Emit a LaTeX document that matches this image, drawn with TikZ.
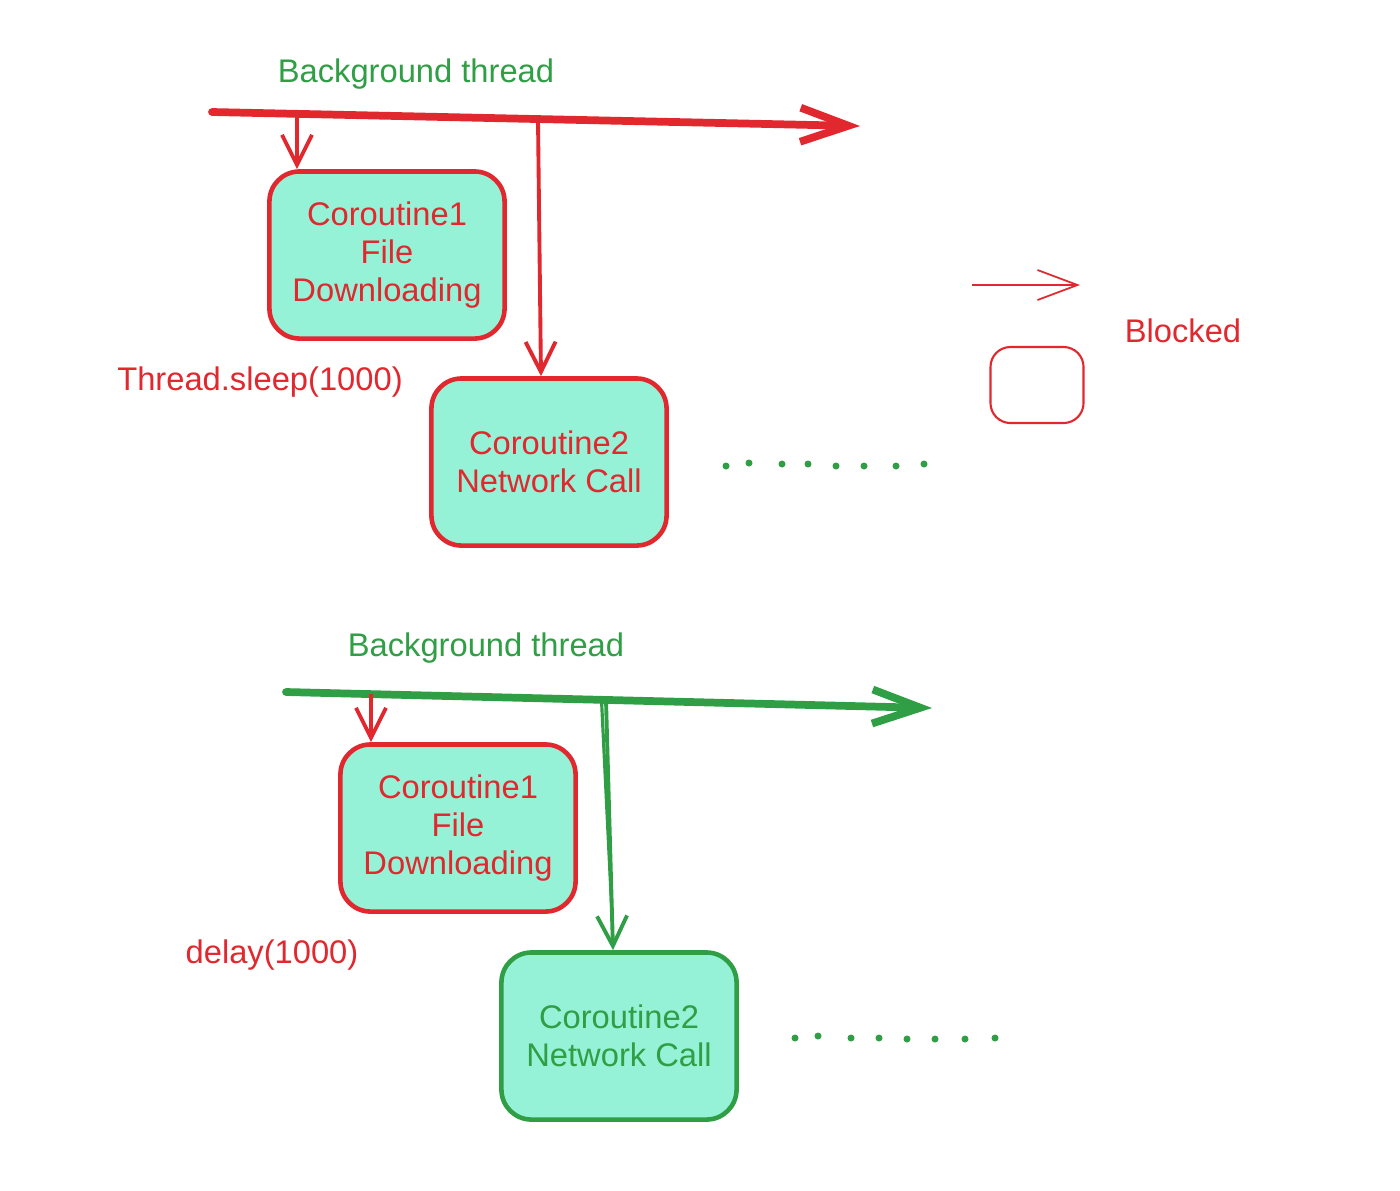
\documentclass[tikz,border=0pt]{standalone}
\usepackage{fontspec}
\setmainfont{Liberation Sans}
\usetikzlibrary{arrows.meta}
\definecolor{sketchred}{HTML}{E0282E}
\definecolor{sketchgreen}{HTML}{2F9E44}
\definecolor{mint}{HTML}{96F2D7}

\begin{document}
\begin{tikzpicture}[x=0.01cm,y=-0.01cm,
    every node/.style={font=\fontsize{9.3}{10.8}\selectfont},
    corbox/.style={draw,rounded corners=0.3cm,fill=mint,line width=1.3pt,minimum width=2.35cm,minimum height=1.67cm,align=center,inner sep=0pt},
    thread/.style={line width=2.2pt,line cap=round,-{Straight Barb[length=0.48cm,width=0.34cm,line width=2.2pt]}},
    spawn/.style={line width=1.1pt,-{Straight Barb[length=0.3cm,width=0.3cm]}},
    dot/.style={circle,fill=sketchgreen,inner sep=0pt,minimum size=0.07cm}]
    \useasboundingbox (0,0) rectangle (1400,1190);

    % blocking version
    \node[text=sketchgreen] (bg1) at (416,74) {Background thread};
    \coordinate (t1a) at (212,112);
    \coordinate (t1b) at (860,126);
    \draw[thread,sketchred] (t1a) -- (t1b);

    \node[corbox,draw=sketchred,text=sketchred] (c1) at (387,255) {Coroutine1\\File\\Downloading};
    \node[corbox,draw=sketchred,text=sketchred] (c2) at (549,462) {Coroutine2\\Network Call};

    \coordinate (s1) at (297,115);
    \coordinate (s2) at (538,120);
    \draw[spawn,sketchred] (s1) -- (s1 |- c1.north);
    \draw[spawn,sketchred] (s2) -- ([xshift=-0.08cm]c2.north);

    \node[text=sketchred] (sleep) at (260,382) {Thread.sleep(1000)};

    \foreach \x/\y [count=\i] in {726/466,749/463,782/464,808/464,836/466,864/466,896/466,924/464}
        \node[dot] (d1\i) at (\x,\y) {};

    % legend
    \coordinate (la) at (972,285);
    \coordinate (lb) at (1080,285);
    \draw[sketchred,line width=0.5pt,-{Straight Barb[length=0.4cm,width=0.3cm]}] (la) -- (lb);
    \node[text=sketchred] (blk) at (1183,331) {Blocked};
    \node[draw=sketchred,rounded corners=0.2cm,minimum width=0.93cm,minimum height=0.76cm,line width=0.6pt] (lbox) at (1037,385) {};

    % suspending version
    \node[text=sketchgreen] (bg2) at (486,648) {Background thread};
    \coordinate (t2a) at (286,692);
    \coordinate (t2b) at (932,708);
    \draw[thread,sketchgreen] (t2a) -- (t2b);

    \node[corbox,draw=sketchred,text=sketchred] (c3) at (458,828) {Coroutine1\\File\\Downloading};
    \node[corbox,draw=sketchgreen,text=sketchgreen] (c4) at (619,1036) {Coroutine2\\Network Call};

    \coordinate (s3) at (371,694);
    \coordinate (s4) at (606,700);
    \draw[spawn,sketchred] (s3) -- (s3 |- c3.north);
    \draw[spawn,sketchgreen] (s4) -- ([xshift=-0.06cm]c4.north);
    \draw[sketchgreen,line width=0.9pt] ([xshift=-0.045cm]s4) -- ([xshift=-0.065cm,yshift=0.25cm]c4.north);

    \node[text=sketchred] (delay) at (272,955) {delay(1000)};

    \foreach \x/\y [count=\i] in {795/1038,818/1036,851/1038,879/1038,907/1039,935/1039,965/1039,995/1038}
        \node[dot] (d2\i) at (\x,\y) {};
\end{tikzpicture}
\end{document}
